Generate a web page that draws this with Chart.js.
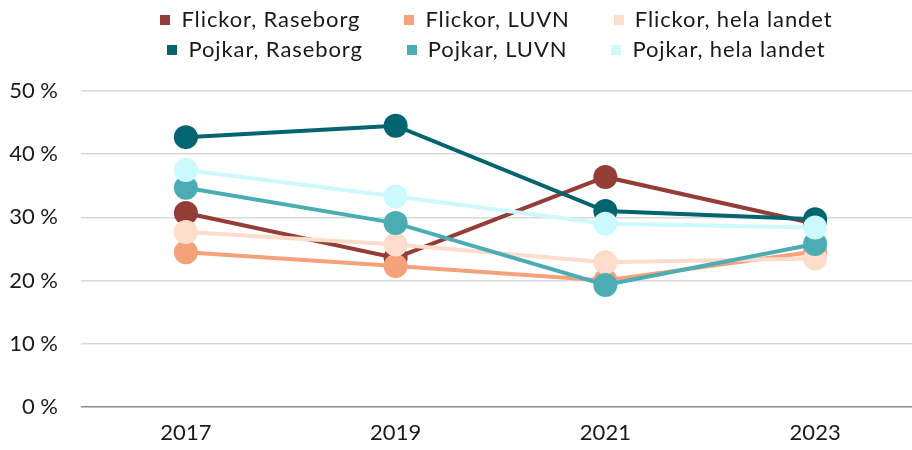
<!DOCTYPE html>
<html>
<head>
<meta charset="utf-8">
<script src="https://cdn.jsdelivr.net/npm/chart.js@4/dist/chart.umd.min.js"></script>
<style>
    html, body { margin: 0; padding: 0; background: #fff; overflow: hidden; }
    .wrap { position: relative; width: 912px; height: 450px; overflow: hidden; font-family: Lato, "Open Sans", sans-serif; }
    #chart { position: absolute; left: 0; top: 0; }
    .legend { position: absolute; left: 81px; width: 831px; top: 3px; }
    .legend-row { display: flex; justify-content: center; gap: 44px; height: 30px; align-items: center; }
    .legend-item { display: flex; align-items: center; font-size: 22px; letter-spacing: 0.9px; color: #1a1a1a; white-space: nowrap; }
    .legend-box { width: 10px; height: 10px; margin-right: 11px; margin-top: 3px; }
</style>
</head>
<body>
<div class="wrap">
    <canvas id="chart" width="932" height="450"></canvas>
    <div class="legend" id="legend"></div>
</div>
<script>
// Data
const years = ['2017', '2019', '2021', '2023'];
const yTicks = [0, 10, 20, 30, 40, 50];

const flickorRaseborg = [30.7, 23.6, 36.4, 29.0];
const flickorLuvn = [24.5, 22.3, 20.0, 24.6];
const flickorHela = [27.7, 25.7, 22.9, 23.5];
const pojkarRaseborg = [42.7, 44.5, 31.0, 29.7];
const pojkarLuvn = [34.7, 29.1, 19.3, 25.8];
const pojkarHela = [37.5, 33.3, 29.0, 28.4];

const seriesNames = [
    'Flickor, Raseborg', 'Flickor, LUVN', 'Flickor, hela landet',
    'Pojkar, Raseborg', 'Pojkar, LUVN', 'Pojkar, hela landet'
];
const seriesValues = [flickorRaseborg, flickorLuvn, flickorHela, pojkarRaseborg, pojkarLuvn, pojkarHela];
const seriesColors = ['#943c36', '#f5a17a', '#fddccb', '#02646f', '#4badb3', '#ccf9fc'];

const datasets = seriesNames.map((name, i) => ({
    label: name,
    data: seriesValues[i],
    borderColor: seriesColors[i],
    backgroundColor: seriesColors[i],
    borderWidth: 4,
    pointRadius: 12,
    pointHoverRadius: 12,
    pointBorderWidth: 0,
    tension: 0,
    order: seriesNames.length - i // later series on top
}));

// HTML legend, two rows of three
function renderLegend() {
    const legend = document.getElementById('legend');
    const rows = [[0, 1, 2], [3, 4, 5]];
    legend.innerHTML = rows.map(row => `
        <div class="legend-row">
            ${row.map(i => `
                <div class="legend-item">
                    <span class="legend-box" style="background:${seriesColors[i]}"></span>${seriesNames[i]}
                </div>`).join('')}
        </div>`).join('');
}

renderLegend();

new Chart(document.getElementById('chart'), {
    type: 'line',
    data: { labels: years, datasets: datasets },
    options: {
        responsive: false,
        animation: false,
        layout: { padding: { top: 91, right: 0, left: 0, bottom: 0 } },
        plugins: {
            legend: { display: false },
            tooltip: { enabled: false }
        },
        scales: {
            x: {
                offset: true,
                grid: { display: false, drawTicks: false },
                border: { display: false },
                ticks: {
                    color: '#1a1a1a',
                    padding: 13,
                    font: { family: 'Lato', size: 22 }
                },
                afterFit: scale => { scale.height = 43; }
            },
            y: {
                min: 0,
                max: 50,
                afterBuildTicks: scale => { scale.ticks = yTicks.map(v => ({ value: v })); },
                grid: {
                    drawTicks: false,
                    lineWidth: 1.5,
                    color: ctx => ctx.tick && ctx.tick.value === 0 ? '#8c8c8c' : '#d9d9d9'
                },
                border: { display: false },
                ticks: {
                    color: '#1a1a1a',
                    padding: 23,
                    font: { family: 'Lato', size: 22 },
                    callback: value => value + ' %'
                },
                afterFit: scale => { scale.width = 81; }
            }
        }
    }
});
</script>
</body>
</html>
